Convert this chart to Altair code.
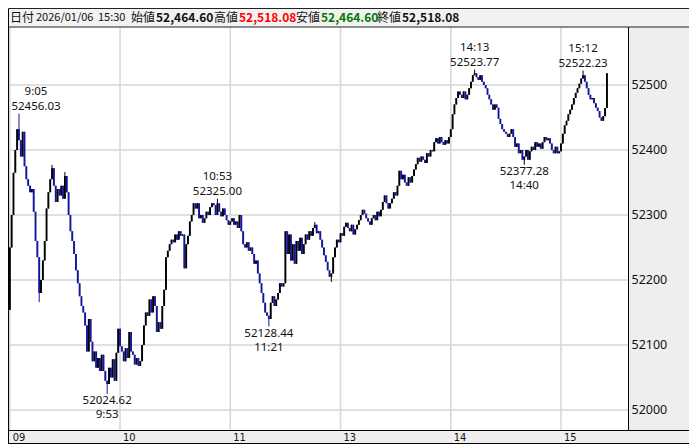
import altair as alt
import pandas as pd

# ---------------- data (1-minute candles) ----------------
closes = [
    52250, 52300, 52365, 52400, 52432, 52415, 52390, 52428, 52375, 52355,
    52345, 52335, 52340, 52305, 52260, 52235, 52180, 52200, 52230, 52260,
    52310, 52335, 52355, 52372, 52345, 52320, 52340, 52330, 52345, 52325,
    52360, 52335, 52300, 52275, 52260, 52240, 52215, 52195, 52175, 52160,
    52150, 52130, 52090, 52140, 52105, 52075, 52090, 52065, 52080, 52060,
    52085, 52060, 52045, 52040, 52065, 52050, 52078, 52045, 52088, 52125,
    52098, 52090, 52075, 52095, 52080, 52120, 52090, 52085, 52070, 52080,
    52068, 52075, 52100, 52130, 52150, 52145, 52170, 52150, 52175, 52160,
    52120, 52135, 52125, 52160, 52185, 52235, 52245, 52255, 52262, 52258,
    52270, 52262, 52275, 52268, 52270, 52218, 52255, 52268, 52290, 52300,
    52318, 52310, 52318, 52295, 52300, 52288, 52295, 52305, 52300, 52312,
    52318, 52315, 52300, 52318, 52305, 52298, 52310, 52300, 52292, 52285,
    52290, 52295, 52285, 52290, 52280, 52300, 52275, 52255, 52250, 52258,
    52245, 52250, 52240, 52225, 52230, 52210, 52195, 52180, 52165, 52150,
    52145, 52140, 52165, 52175, 52160, 52170, 52180, 52195, 52190, 52195,
    52275, 52240, 52270, 52230, 52255, 52225, 52260, 52245, 52265, 52240,
    52255, 52270, 52262, 52275, 52268, 52280, 52285, 52272, 52275, 52262,
    52250, 52238, 52228, 52215, 52205, 52210, 52235, 52250, 52262, 52258,
    52272, 52268, 52282, 52288, 52280, 52275, 52285, 52270, 52278, 52285,
    52292, 52300, 52308, 52302, 52295, 52290, 52285, 52295, 52300, 52292,
    52305, 52298, 52308, 52320, 52330, 52318, 52310, 52318, 52325, 52335,
    52330, 52345, 52368, 52355, 52362, 52350, 52345, 52358, 52350, 52360,
    52370, 52378, 52388, 52382, 52390, 52385, 52380, 52395, 52390, 52400,
    52398, 52412, 52418, 52410, 52420, 52412, 52408, 52415, 52410, 52420,
    52432, 52455, 52470, 52480, 52490, 52485, 52480, 52490, 52478, 52485,
    52495, 52505, 52515, 52518, 52512, 52508, 52515, 52505, 52500, 52495,
    52485, 52478, 52470, 52462, 52470, 52465, 52448, 52440, 52432, 52428,
    52425, 52420, 52425, 52432, 52420, 52405, 52410, 52395, 52400, 52385,
    52390, 52400, 52385, 52398, 52405, 52400, 52412, 52405, 52410, 52402,
    52412, 52420, 52415, 52418, 52410, 52400, 52395, 52405, 52395, 52398,
    52410, 52425, 52438, 52445, 52455, 52462, 52470, 52480, 52488, 52495,
    52502, 52510, 52515, 52505, 52495, 52485, 52478, 52480, 52472, 52465,
    52460, 52450, 52445, 52452, 52464.60, 52518.08,
]
first_open = 52154.0

# wick extremes that stick out of the bodies
hi_idx = [5, 23, 30, 113, 166, 253, 312]
hi_val = [52456.03, 52377.0, 52366.0, 52325.00, 52289.0, 52523.77, 52522.23]
lo_idx = [16, 53, 141, 175, 280]
lo_val = [52166.0, 52024.62, 52128.44, 52197.0, 52377.28]

# annotated extremes
ann_idx = [5, 53, 113, 141, 253, 280, 312]
ann_time = ["9:05", "9:53", "10:53", "11:21", "14:13", "14:40", "15:12"]
ann_val = [52456.03, 52024.62, 52325.00, 52128.44, 52523.77, 52377.28, 52522.23]
ann_kind = ["high", "low", "high", "low", "high", "low", "high"]

# axes
y_ticks = [52000, 52100, 52200, 52300, 52400, 52500]
x_tick_pos = [0, 60, 120, 180, 240, 300]
x_tick_lab = ["09", "10", "11", "13", "14", "15"]

# header
hdr_date = ["日付", "2026/01/06", "15:30"]
hdr_names = ["始値", "高値", "安値", "終値"]
hdr_values = ["52,464.60", "52,518.08", "52,464.60", "52,518.08"]

# ---------------- build table ----------------
n = len(closes)
opens = [first_open] + closes[:-1]
highs = [max(o, c) for o, c in zip(opens, closes)]
lows = [min(o, c) for o, c in zip(opens, closes)]
for k, v in zip(hi_idx, hi_val):
    highs[k] = max(highs[k], v)
for k, v in zip(lo_idx, lo_val):
    lows[k] = min(lows[k], v)

df = pd.DataFrame({"i": list(range(n)), "open": opens, "close": closes,
                   "high": highs, "low": lows})
df["dir"] = ["up" if c >= o else "down" for o, c in zip(opens, closes)]

ann = pd.DataFrame({"i": ann_idx, "t": ann_time, "v": ann_val, "kind": ann_kind})

# ---------------- styles ----------------
W, H = 620, 403
TOTAL_W = 681
FONT = "Noto Sans"
JFONT = "Noto Sans CJK JP"
UP, DOWN = "#000000", "#16169c"
GRID = "#d6d6d6"
PANEL = "#eeeeee"

xscale = alt.Scale(domain=[-0.98, 336.47], nice=False, zero=False)
yscale = alt.Scale(domain=[51969.23, 52589.23], nice=False, zero=False)
color = alt.Color("dir:N", scale=alt.Scale(domain=["up", "down"], range=[UP, DOWN]), legend=None)

label_expr = ""
for p, l in zip(x_tick_pos, x_tick_lab):
    label_expr += f"datum.value == {p} ? '{l}' : "
label_expr += "''"

xaxis = alt.Axis(values=x_tick_pos, labelExpr=label_expr, grid=False, ticks=False, domain=False,
                 labelAlign="left", labelOffset=2.5, labelBaseline="middle", labelPadding=7,
                 labelFont="Liberation Sans Narrow, DejaVu Sans Condensed, sans-serif",
                 labelFontSize=11, labelColor="#111111", labelOverlap=False, labelFlush=False,
                 title=None, zindex=1)
yaxis = alt.Axis(orient="right", values=y_ticks, format="d", grid=False, ticks=False, tickSize=0,
                 domain=False, labelAlign="left", labelPadding=3, labelFont=FONT, labelFontSize=12.5,
                 labelColor="#111111", labelOverlap=False, labelFlush=False,
                 title=None, zindex=1)

one = pd.DataFrame({"a": [0]})

# gridlines
ygrid = alt.Chart(pd.DataFrame({"v": y_ticks})).mark_rule(color=GRID, strokeWidth=1.5).encode(
    y=alt.Y("v:Q", scale=yscale, axis=yaxis), x=alt.value(0), x2=alt.value(W))
xgrid = alt.Chart(pd.DataFrame({"t": x_tick_pos})).mark_rule(color=GRID, strokeWidth=1.5).encode(
    x=alt.X("t:Q", scale=xscale, axis=xaxis), y=alt.value(0), y2=alt.value(H))

# candles
wicks = alt.Chart(df).mark_rule(strokeWidth=1).encode(
    x=alt.X("i:Q", scale=xscale, axis=xaxis),
    y=alt.Y("low:Q", scale=yscale, axis=yaxis), y2="high:Q", color=color)
bodies = alt.Chart(df).mark_rule(strokeWidth=1.9).encode(
    x=alt.X("i:Q", scale=xscale, axis=xaxis),
    y=alt.Y("open:Q", scale=yscale, axis=yaxis), y2="close:Q", color=color)

# annotations
def ann_layer(kind, field, dy, first):
    flt = f"datum.kind == '{kind}' && datum.i {'==' if first else '!='} 5"
    m = alt.Chart(ann).transform_filter(flt).mark_text(
        font=FONT, fontSize=11.5, color="#111111", baseline="middle", align="center",
        dy=dy, dx=17 if first else 0)
    enc = dict(x=alt.X("i:Q", scale=xscale, axis=xaxis), y=alt.Y("v:Q", scale=yscale, axis=yaxis))
    if field == "v":
        enc["text"] = alt.Text("v:Q", format=".2f")
    else:
        enc["text"] = alt.Text("t:N")
    return m.encode(**enc)

ann_layers = [
    ann_layer("high", "t", -21.5, False), ann_layer("high", "v", -7, False),
    ann_layer("high", "t", -21.5, True), ann_layer("high", "v", -7, True),
    ann_layer("low", "v", 7, False), ann_layer("low", "t", 21.5, False),
]

# frame decorations
panel = alt.Chart(one).mark_rect(fill=PANEL).encode(
    x=alt.value(W), x2=alt.value(TOTAL_W + 2), y=alt.value(0), y2=alt.value(H))
panel_line = alt.Chart(one).mark_rule(color="#000000", strokeWidth=1).encode(
    x=alt.value(W + 0.5), y=alt.value(0), y2=alt.value(H))
bottom = alt.Chart(one).mark_rect(fill=PANEL, stroke="#000000", strokeWidth=1).encode(
    x=alt.value(0.5), x2=alt.value(TOTAL_W + 2), y=alt.value(H + 0.5), y2=alt.value(H + 13.5))
header = alt.Chart(one).mark_rect(fill="#f2f2f2", stroke="#222222", strokeWidth=1).encode(
    x=alt.value(0.5), x2=alt.value(TOTAL_W + 2), y=alt.value(-18.5), y2=alt.value(0))
left_line = alt.Chart(one).mark_rule(color="#000000", strokeWidth=1).encode(
    x=alt.value(0.5), y=alt.value(-18), y2=alt.value(H + 14))

def htext(txt, px, size=12, weight="normal", col="#111111"):
    return alt.Chart(one).mark_text(
        align="left", baseline="middle", font=JFONT, fontSize=size, fontWeight=weight, color=col
    ).encode(x=alt.value(px), y=alt.value(-9.5), text=alt.value(txt))

date_x = [2, 28, 90]
date_sz = [12, 11, 11]
name_x = [123, 206, 288, 369]
val_x = [148, 231, 313, 394]
val_col = ["#111111", "#ff0000", "#007a00", "#111111"]
hdr_layers = [htext(t, px, size=s) for t, px, s in zip(hdr_date, date_x, date_sz)]
hdr_layers += [htext(t, px) for t, px in zip(hdr_names, name_x)]
hdr_layers += [htext(t, px, size=12, weight="bold", col=c) for t, px, c in zip(hdr_values, val_x, val_col)]

chart = alt.layer(
    ygrid, xgrid, wicks, bodies, *ann_layers,
    panel, panel_line, bottom, header, left_line, *hdr_layers
).properties(
    width=W, height=H,
    padding={"left": 0, "top": 19, "right": TOTAL_W - W, "bottom": 14},
    autosize=alt.AutoSizeParams(type="none"),
).configure(background="white").configure_view(stroke=None)

chart.save("out.html", embed_options={"renderer": "svg", "actions": False})
